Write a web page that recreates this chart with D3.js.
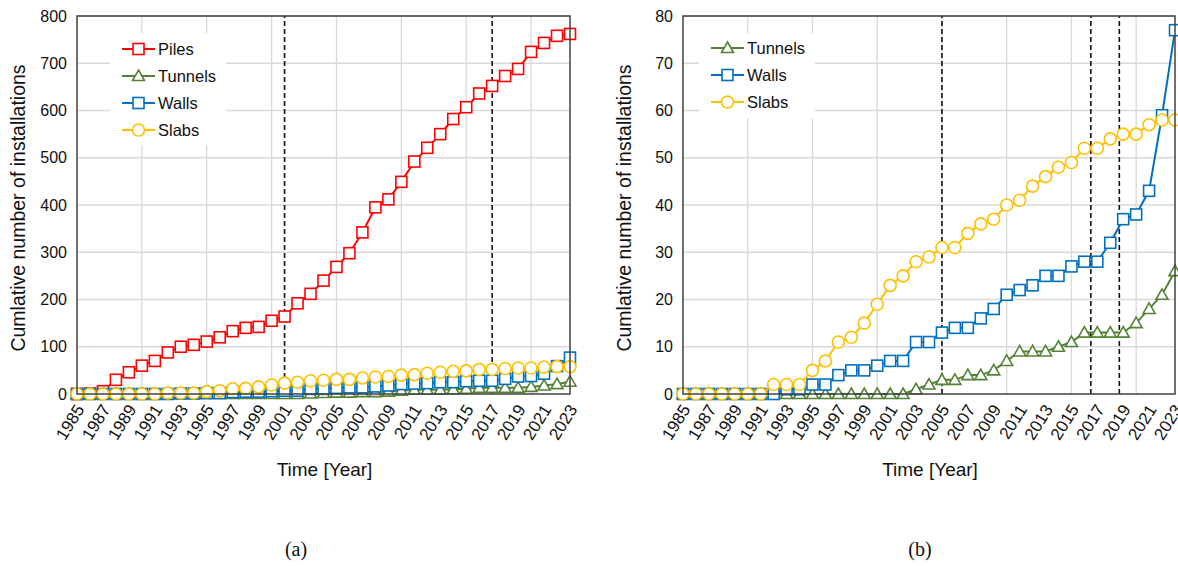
<!DOCTYPE html>
<html>
<head>
<meta charset="utf-8">
<script src="https://cdn.jsdelivr.net/npm/d3@7"></script>
<style>
  body { margin: 0; background: #fff; font-family: "Liberation Sans", Arial, sans-serif; }
  svg text { fill: #111; }
</style>
</head>
<body>
<div id="chart"></div>
<script>
// years on the x axis
const years = [1985, 1986, 1987, 1988, 1989, 1990, 1991, 1992, 1993, 1994, 1995, 1996, 1997, 1998, 1999,
  2000, 2001, 2002, 2003, 2004, 2005, 2006, 2007, 2008, 2009, 2010, 2011, 2012, 2013, 2014, 2015,
  2016, 2017, 2018, 2019, 2020, 2021, 2022, 2023];
const yearLabels = [1985, 1987, 1989, 1991, 1993, 1995, 1997, 1999, 2001, 2003, 2005, 2007, 2009,
  2011, 2013, 2015, 2017, 2019, 2021, 2023];
const gridYears = [1990, 1995, 2000, 2005, 2010, 2015, 2020];

// cumulative installations
const piles = [0, 1, 6, 30, 46, 60, 70, 88, 100, 104, 111, 120, 133, 140, 142, 155, 164, 192, 212, 240,
  269, 298, 342, 395, 412, 449, 492, 521, 550, 582, 607, 636, 652, 673, 688, 724, 743, 758, 762];
const tunnels = [0, 0, 0, 0, 0, 0, 0, 0, 0, 0, 0, 0, 0, 0, 0, 0, 0, 0, 1, 2,
  3, 3, 4, 4, 5, 7, 9, 9, 9, 10, 11, 13, 13, 13, 13, 15, 18, 21, 26];
const walls = [0, 0, 0, 0, 0, 0, 0, 0, 1, 1, 2, 2, 4, 5, 5, 6, 7, 7, 11, 11,
  13, 14, 14, 16, 18, 21, 22, 23, 25, 25, 27, 28, 28, 32, 37, 38, 43, 59, 77];
const slabs = [0, 0, 0, 0, 0, 0, 0, 2, 2, 2, 5, 7, 11, 12, 15, 19, 23, 25, 28, 29,
  31, 31, 34, 36, 37, 40, 41, 44, 46, 48, 49, 52, 52, 54, 55, 55, 57, 58, 58];

const yTicksA = [0, 100, 200, 300, 400, 500, 600, 700, 800];
const yTicksB = [0, 10, 20, 30, 40, 50, 60, 70, 80];
const dashedA = [2001, 2017];
const dashedB = [2005, 2016.5, 2018.7];

const styles = {
  Piles:   { color: "#ff0000", marker: "square" },
  Tunnels: { color: "#548235", marker: "triangle" },
  Walls:   { color: "#0070c0", marker: "square" },
  Slabs:   { color: "#ffc000", marker: "circle" }
};

const svg = d3.select("#chart").append("svg")
  .attr("width", 1178)
  .attr("height", 566);

function drawPanel(opt) {
  const x = d3.scaleLinear().domain([1985, 2023]).range([opt.left, opt.right]);
  const y = d3.scaleLinear().domain([0, opt.yMax]).range([394, 16]);
  const g = svg.append("g");

  // grid
  g.selectAll(".gy").data(opt.yTicks.slice(1)).enter().append("line")
    .attr("x1", opt.left).attr("x2", opt.right)
    .attr("y1", d => y(d)).attr("y2", d => y(d))
    .attr("stroke", "#d9d9d9").attr("stroke-width", 1.3);
  g.selectAll(".gx").data(gridYears).enter().append("line")
    .attr("x1", d => x(d)).attr("x2", d => x(d))
    .attr("y1", y(0)).attr("y2", y(opt.yMax))
    .attr("stroke", "#d9d9d9").attr("stroke-width", 1.3);

  // dashed markers
  g.selectAll(".dash").data(opt.dashed).enter().append("line")
    .attr("x1", d => x(d)).attr("x2", d => x(d))
    .attr("y1", y(0)).attr("y2", y(opt.yMax))
    .attr("stroke", "#111").attr("stroke-width", 1.6)
    .attr("stroke-dasharray", "5,3");

  // legend box (white, covers grid)
  g.append("rect")
    .attr("x", opt.legendX - 12).attr("y", 33)
    .attr("width", 116).attr("height", opt.series.length * 27 + 4)
    .attr("fill", "#fff");

  // series
  opt.series.forEach(s => {
    const st = styles[s.name];
    const pts = years.map((yr, i) => [x(yr), y(s.values[i])]);
    g.append("path")
      .attr("d", d3.line()(pts))
      .attr("fill", "none").attr("stroke", st.color).attr("stroke-width", 2);
    pts.forEach(p => drawMarker(g, st, p[0], p[1]));
  });

  // frame
  g.append("rect")
    .attr("x", opt.left).attr("y", y(opt.yMax))
    .attr("width", opt.right - opt.left).attr("height", y(0) - y(opt.yMax))
    .attr("fill", "none").attr("stroke", "#404040").attr("stroke-width", 1.5);

  // y ticks
  g.selectAll(".yl").data(opt.yTicks).enter().append("text")
    .attr("x", opt.left - 10).attr("y", d => y(d)).attr("dy", "0.35em")
    .attr("text-anchor", "end").attr("font-size", 16)
    .text(d => d);

  // x ticks
  g.selectAll(".xl").data(yearLabels).enter().append("text")
    .attr("transform", d => `translate(${x(d) + 3},${y(0) + 12}) rotate(-58)`)
    .attr("dy", "0.35em")
    .attr("text-anchor", "end").attr("font-size", 17)
    .text(d => d);

  // titles
  g.append("text")
    .attr("transform", `translate(${opt.left - 52},${(y(0) + y(opt.yMax)) / 2 + 3}) rotate(-90)`)
    .attr("text-anchor", "middle").attr("font-size", 19.5)
    .text("Cumlative number of installations");
  g.append("text")
    .attr("x", (opt.left + opt.right) / 2 + 1).attr("y", 476)
    .attr("text-anchor", "middle").attr("font-size", 19)
    .text("Time [Year]");
  g.append("text")
    .attr("x", opt.captionX).attr("y", 556)
    .attr("text-anchor", "middle").attr("font-size", 20)
    .attr("font-family", "Liberation Serif, Times New Roman, serif")
    .text(opt.caption);

  // legend
  opt.series.forEach((s, i) => {
    const st = styles[s.name];
    const ly = opt.legendY + i * 27;
    g.append("line")
      .attr("x1", opt.legendX).attr("x2", opt.legendX + 33)
      .attr("y1", ly).attr("y2", ly)
      .attr("stroke", st.color).attr("stroke-width", 2);
    drawMarker(g, st, opt.legendX + 16.5, ly);
    g.append("text")
      .attr("x", opt.legendX + 36).attr("y", ly).attr("dy", "0.35em")
      .attr("font-size", 16.5)
      .text(s.name);
  });
}

function drawMarker(g, st, cx, cy) {
  if (st.marker === "square") {
    g.append("rect")
      .attr("x", cx - 5.5).attr("y", cy - 5.5).attr("width", 11).attr("height", 11)
      .attr("fill", "#fff").attr("stroke", st.color).attr("stroke-width", 1.6);
  } else if (st.marker === "circle") {
    g.append("circle")
      .attr("cx", cx).attr("cy", cy).attr("r", 6)
      .attr("fill", "#fff").attr("stroke", st.color).attr("stroke-width", 1.6);
  } else {
    g.append("path")
      .attr("d", `M${cx},${cy - 6}L${cx + 6},${cy + 4.5}L${cx - 6},${cy + 4.5}Z`)
      .attr("fill", "#fff").attr("stroke", st.color).attr("stroke-width", 1.6);
  }
}

drawPanel({
  left: 77, right: 570, yMax: 800, yTicks: yTicksA, dashed: dashedA,
  legendX: 122, legendY: 49,
  caption: "(a)", captionX: 296,
  series: [
    { name: "Piles", values: piles },
    { name: "Tunnels", values: tunnels },
    { name: "Walls", values: walls },
    { name: "Slabs", values: slabs }
  ]
});

drawPanel({
  left: 683, right: 1175, yMax: 80, yTicks: yTicksB, dashed: dashedB,
  legendX: 711, legendY: 48,
  caption: "(b)", captionX: 920,
  series: [
    { name: "Tunnels", values: tunnels },
    { name: "Walls", values: walls },
    { name: "Slabs", values: slabs }
  ]
});
</script>
</body>
</html>
